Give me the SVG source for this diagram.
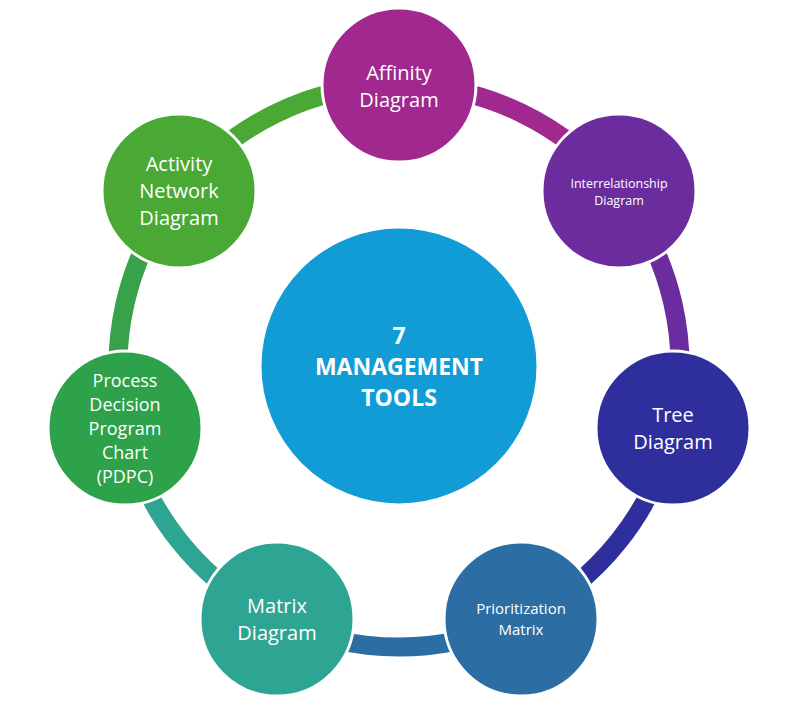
<svg xmlns="http://www.w3.org/2000/svg" width="791" height="708" viewBox="0 0 791 708">
<style>
text{font-family:"Open Sans","Liberation Sans",sans-serif;fill:#fff;text-anchor:middle}
.n circle{stroke:#fff;stroke-width:3}
.c path{fill:none;stroke-width:19}
</style>
<rect width="791" height="708" fill="#fff"/>
<g id="connectors" class="c">
<path d="M399 85 A281 281 0 0 1 618.7 190.8" stroke="#a0288e"/>
<path d="M618.7 190.8 A281 281 0 0 1 672.9 428.5" stroke="#6b2c9e"/>
<path d="M672.9 428.5 A281 281 0 0 1 520.9 619.2" stroke="#2e2f9c"/>
<path d="M520.9 619.2 A281 281 0 0 1 277.1 619.2" stroke="#2c6ea3"/>
<path d="M277.1 619.2 A281 281 0 0 1 125.1 428.5" stroke="#2ea593"/>
<path d="M125.1 428.5 A281 281 0 0 1 179.3 190.8" stroke="#38a24a"/>
<path d="M179.3 190.8 A281 281 0 0 1 399 85" stroke="#4aa834"/>
</g>
<g id="center" class="n"><circle cx="399" cy="366" r="139" fill="#129cd6" stroke="none"/>
<text font-weight="bold" font-size="23"><tspan x="399" y="344">7</tspan><tspan x="399" y="375">MANAGEMENT</tspan><tspan x="399" y="406">TOOLS</tspan></text></g>
<g id="affinity" class="n"><circle cx="399" cy="85" r="77" fill="#a0288e"/>
<text font-size="20"><tspan x="399" y="80">Affinity</tspan><tspan x="399" y="107">Diagram</tspan></text></g>
<g id="interrelationship" class="n"><circle cx="619" cy="191" r="77" fill="#6b2c9e"/>
<text font-size="12.5"><tspan x="619" y="188">Interrelationship</tspan><tspan x="619" y="205">Diagram</tspan></text></g>
<g id="tree" class="n"><circle cx="673" cy="428" r="77" fill="#2e2f9c"/>
<text font-size="20"><tspan x="673" y="422">Tree</tspan><tspan x="673" y="449">Diagram</tspan></text></g>
<g id="prioritization" class="n"><circle cx="521" cy="619" r="77" fill="#2c6ea3"/>
<text font-size="15"><tspan x="521" y="614">Prioritization</tspan><tspan x="521" y="635">Matrix</tspan></text></g>
<g id="matrix" class="n"><circle cx="277" cy="619" r="77" fill="#2ea593"/>
<text font-size="20"><tspan x="277" y="613">Matrix</tspan><tspan x="277" y="640">Diagram</tspan></text></g>
<g id="pdpc" class="n"><circle cx="125" cy="428" r="77" fill="#2ea24a"/>
<text font-size="18"><tspan x="125" y="387">Process</tspan><tspan x="125" y="411">Decision</tspan><tspan x="125" y="435">Program</tspan><tspan x="125" y="459">Chart</tspan><tspan x="125" y="483">(PDPC)</tspan></text></g>
<g id="activity" class="n"><circle cx="179" cy="191" r="77" fill="#4aa834"/>
<text font-size="20"><tspan x="179" y="171">Activity</tspan><tspan x="179" y="198">Network</tspan><tspan x="179" y="225">Diagram</tspan></text></g>
</svg>
